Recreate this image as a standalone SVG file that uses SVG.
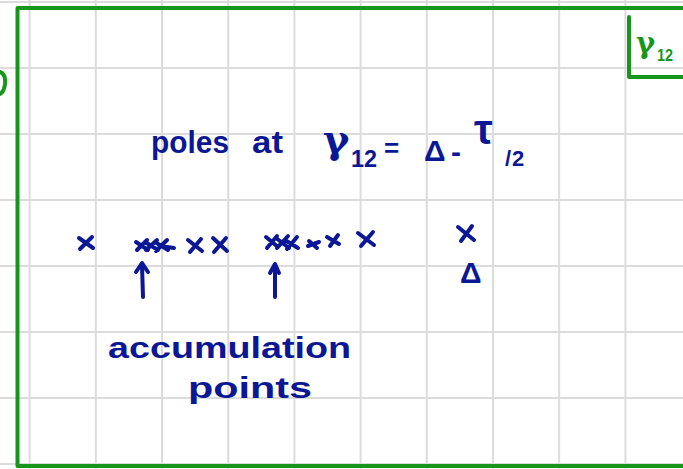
<svg xmlns="http://www.w3.org/2000/svg" width="683" height="469" viewBox="0 0 683 469">
<defs>
<style>
.grid{stroke:#dcdcdc;stroke-width:2}
.frame{fill:none;stroke:#16961a;stroke-width:4;stroke-linecap:round;stroke-linejoin:round}
.ink{fill:none;stroke:#0b1794;stroke-width:4;stroke-linecap:round;stroke-linejoin:round}
.hw{fill:#0b1794;font-family:"Liberation Sans","DejaVu Sans",sans-serif;font-weight:bold}
.gw{fill:#16961a;font-family:"Liberation Sans","DejaVu Sans",sans-serif;font-weight:bold}
.greek{font-family:"DejaVu Serif",serif}
</style>
</defs>
<rect width="683" height="469" fill="#ffffff"/>
<g id="grid">
<path class="grid" d="M29.6 0V469M95.8 0V469M162 0V469M228.2 0V469M294.4 0V469M360.6 0V469M426.8 0V469M493 0V469M559.2 0V469M625.4 0V469M0 2H683M0 68H683M0 134H683M0 200H683M0 266H683M0 332H683M0 398H683M0 464H683"/>
</g>
<g id="frame">
<path class="frame" d="M682 8H17.5V466H682"/>
<path class="frame" d="M0 72Q6 74 5 84Q4 92 0 94"/>
</g>
<g id="label-box">
<path class="frame" d="M629 17V77H683"/>
<text class="gw greek" x="636" y="53" font-size="29">γ</text>
<text class="gw" x="657" y="61" font-size="16" textLength="16" lengthAdjust="spacingAndGlyphs">12</text>
</g>
<g id="title">
<text class="hw" x="151" y="153" font-size="31" textLength="78" lengthAdjust="spacingAndGlyphs">poles</text>
<text class="hw" x="252" y="153" font-size="31" textLength="31" lengthAdjust="spacingAndGlyphs">at</text>
<text class="hw greek" x="323" y="153" font-size="40">γ</text>
<text class="hw" x="351" y="167" font-size="24" textLength="26" lengthAdjust="spacingAndGlyphs">12</text>
<text class="hw" x="384" y="157" font-size="26">=</text>
<text class="hw" x="424" y="161" font-size="30">Δ</text>
<text class="hw" x="451" y="162" font-size="30">-</text>
<text class="hw" x="474" y="144" font-size="42">τ</text>
<text class="hw" x="505" y="166" font-size="22">/</text>
<text class="hw" x="512" y="166" font-size="22">2</text>
</g>
<g id="poles">
<path class="ink" d="M79 238L93 248M92 237L80 249"/>
<path class="ink" d="M136 242L148 250M147 240L137 250M145 242L158 250M157 240L146 250M155 242L168 250M167 240L156 251M160 246L174 248"/>
<path class="ink" d="M188 240L202 251M201 239L190 252"/>
<path class="ink" d="M213 238L227 251M226 238L214 252"/>
<path class="ink" d="M266 237L278 247M277 236L267 248M276 238L289 248M288 236L277 248M285 240L298 248M297 237L287 249"/>
<path class="ink" d="M308 246L319 242M309 241L317 248"/>
<path class="ink" d="M327 237L339 244M338 235L330 246"/>
<path class="ink" d="M358 233L374 245M373 232L361 246"/>
<path class="ink" d="M458 227L474 240M472 226L461 241"/>
</g>
<g id="delta-mark">
<text class="hw" x="460" y="283" font-size="30">Δ</text>
</g>
<g id="arrows">
<path class="ink" d="M143 297L142 265M136 272L142 263L148 272"/>
<path class="ink" d="M275 297L275 265M270 273L275 264L279 273"/>
</g>
<g id="caption">
<text class="hw" x="108" y="358" font-size="30" textLength="243" lengthAdjust="spacingAndGlyphs">accumulation</text>
<text class="hw" x="188" y="398" font-size="30" textLength="124" lengthAdjust="spacingAndGlyphs">points</text>
</g>
</svg>
